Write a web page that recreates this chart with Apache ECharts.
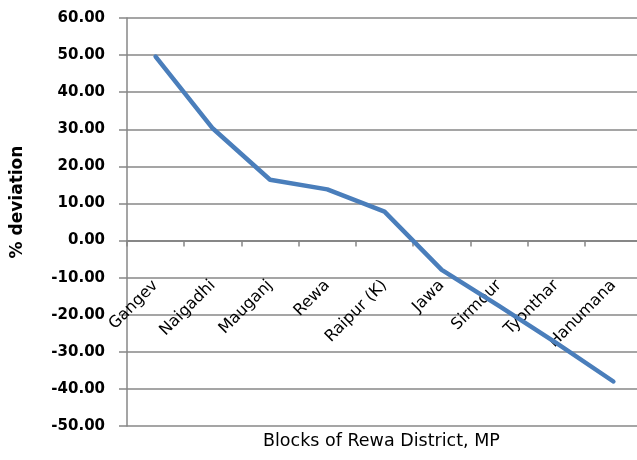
<!DOCTYPE html>
<html>
<head>
<meta charset="utf-8">
<script src="https://cdn.jsdelivr.net/npm/echarts@6/dist/echarts.min.js"></script>
<style>
html,body{margin:0;padding:0;background:#fff;}
#c{width:637px;height:460px;}
</style>
</head>
<body>
<div id="c"></div>
<script>
var categories = ['Gangev','Naigadhi','Mauganj','Rewa','Raipur (K)','Jawa','Sirmour','Tyonthar','Hanumana'];
var deviation = [49.6, 30.2, 16.4, 13.8, 7.8, -7.9, -17.6, -27.6, -38.0];
var yMin = -50, yMax = 60, yStep = 10;
var xTitle = 'Blocks of Rewa District, MP';
var yTitle = '% deviation';

var chart = echarts.init(document.getElementById('c'), null, {renderer:'canvas'});
var gridColor = '#878787';
chart.setOption({
  animation:false,
  backgroundColor:'#ffffff',
  grid:{left:127, right:-5, top:18, bottom:34, containLabel:false, outerBoundsMode:'none'},
  xAxis:{
    type:'category',
    data:categories,
    boundaryGap:true,
    axisLine:{show:true, onZero:true, lineStyle:{color:gridColor, width:2}},
    axisTick:{show:true, length:6, alignWithLabel:false, interval:0, lineStyle:{color:gridColor, width:1.5}},
    axisLabel:{interval:0, rotate:45, margin:-143, fontFamily:'DejaVu Sans', fontSize:16, color:'#000'},
    splitLine:{show:false}
  },
  yAxis:{
    type:'value',
    min:yMin, max:yMax, interval:yStep,
    axisLine:{show:true, lineStyle:{color:gridColor, width:1.5}},
    axisTick:{show:true, length:8, lineStyle:{color:gridColor, width:1.5}},
    axisLabel:{margin:22, fontFamily:'DejaVu Sans', fontWeight:'bold', fontSize:15, color:'#000',
      formatter:function(v){return v.toFixed(2);}},
    splitLine:{show:true, lineStyle:{color:gridColor, width:1.5}}
  },
  graphic:[
    {type:'text', left:263, top:432, style:{text:xTitle, fontFamily:'DejaVu Sans', fontSize:17.5, fill:'#000'}},
    {type:'text', rotation:Math.PI/2, x:18, y:202,
      style:{text:yTitle, fontFamily:'DejaVu Sans', fontWeight:'bold', fontSize:17, fill:'#000', align:'center', verticalAlign:'middle'}}
  ],
  series:[{
    type:'line',
    data:deviation,
    showSymbol:false,
    symbol:'none',
    smooth:false,
    lineStyle:{color:'#4A7EBB', width:4.5, cap:'round', join:'round'}
  }]
});
</script>
</body>
</html>
